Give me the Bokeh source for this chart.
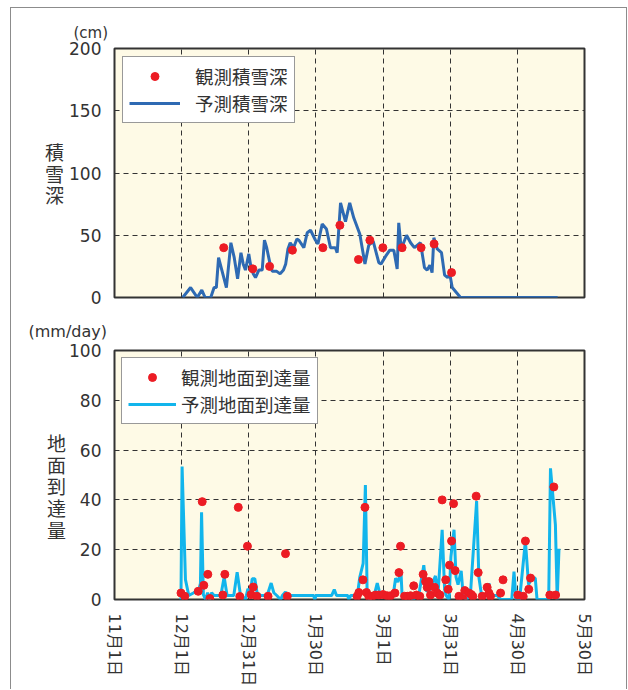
from bokeh.plotting import figure
from bokeh.layouts import column
from bokeh.models import FixedTicker, Legend
from bokeh.embed import file_html
from bokeh.resources import INLINE

# ---- data: x is days counted from 1 Nov ----
# snow depth (cm)
snow_pred_day = [30.5, 34, 37, 39, 40.5, 43, 44.5, 45.5, 46.5, 50, 52, 53.5, 55, 56.5, 57.5,
                 58.5, 60, 61, 62, 63, 64.5, 66, 67, 68, 69.5, 70.5, 72.5, 74, 75.5, 76.5,
                 77.5, 78.5, 80, 81.5, 82.4, 84.6, 86.1, 87.6, 89.8, 90.9, 92.8, 94.7, 96.5,
                 98.7, 99.5, 101, 103.2, 105.1, 106.9, 109.6, 111.9, 113.6, 115.6, 118.1,
                 119.1, 121.1, 123, 124.8, 126.3, 127, 128.1, 130.5, 132.3, 134, 136.7,
                 138.5, 139.7, 140.9, 141.9, 142.7, 144.2, 146.1, 147.5, 148.9, 149.8,
                 150.9, 154.6, 198]
snow_pred_cm = [0, 8, 0, 6, 0, 0, 8, 8, 32, 8, 44, 32, 15, 36, 27,
                22, 35, 24, 19, 16, 22, 22, 46, 40, 27, 21, 21, 19, 22, 27,
                39, 44, 40, 47, 46, 40, 52, 54, 46, 43, 59, 55, 40,
                40, 36, 76, 61, 76, 64, 51, 27, 42, 45, 28,
                27, 33, 38, 38, 23, 60, 39, 50, 44, 40, 44,
                24, 22, 26, 20, 48, 39, 36, 18, 16, 19,
                8, 0, 0]
snow_obs_day = [48.8, 61.8, 69.3, 79.5, 93.1, 100.7, 109, 114.1, 119.9, 128.5, 137, 142.8, 150.6]
snow_obs_cm = [40, 23, 25, 38, 40, 58, 30.5, 46, 40, 40, 40, 43, 20]

# water reaching the ground (mm/day)
melt_pred_day = [29.7, 30.2, 31.7, 33.2, 35.4, 37.7, 38.4, 38.9, 39.7, 40.7, 41.6, 42.5, 43.4,
                 44.5, 47.5, 49, 50.3, 53.3, 54.8, 56.3, 58.5, 59.6, 60.8, 61.5, 62.7, 63.7,
                 65.2, 68.2, 70, 71.2, 72.5, 74.2, 75, 76.4, 77.2, 89, 89.5, 90, 97, 98.2,
                 99.2, 104.2, 104.7, 105.5, 108.5, 109.6, 111.1, 112.1, 112.9, 114, 116,
                 117.4, 118.8, 124.5, 125.6, 126.6, 128, 128.5, 131, 133.7, 134.5, 136,
                 138.2, 139.4, 141, 143.4, 144.5, 146.4, 147.5, 148.2, 149.5, 150.3, 151.7,
                 152.6, 153.5, 154.9, 155.8, 157.2, 159, 161.8, 162.8, 164, 166, 167.3, 168,
                 171, 172.5, 177.5, 178.5, 179.4, 181, 183.6, 185, 186.5, 188, 188.8, 194,
                 194.8, 197, 197.8, 198.6]
melt_pred_mm = [0, 53.4, 8, 1.6, 2.7, 4, 6.5, 35, 2, 0, 2.7, 0, 2.7,
                1.6, 1.6, 9, 1.6, 1.6, 11, 1.6, 0, 4.3, 2.7, 8.3, 8.3, 2.7,
                1.6, 1.6, 6.6, 2.7, 1.6, 0, 1.6, 3, 1.6, 1.6, 0, 1.6, 1.6, 4,
                1.6, 1.6, 0, 1.6, 1.6, 9, 14.5, 46, 1.6, 0, 1.6,
                6.6, 1.6, 1.6, 8.5, 7, 11, 1.6, 1.6, 0, 1.6, 2,
                13.8, 3.3, 4, 9.5, 1.6, 28, 4, 1.6, 0, 17, 28,
                9, 6, 11.5, 1.6, 0, 1.6, 39.5, 9, 1.6, 2, 6.5, 1.6,
                1.6, 0, 0, 11.2, 0, 0, 23.5, 6, 8.6, 8.6, 0, 0,
                52.7, 30, 0, 20.4]
melt_obs_day = [29.7, 31.4, 37.4, 39.2, 39.9, 41.7, 42.6, 48.4, 49.3, 55.3, 56, 59.4, 61, 62,
                63.6, 68.6, 76.4, 77.2, 108.4, 109.2, 111, 111.9, 112.6, 113.6, 115.1, 116.6,
                118.1, 120, 121.8, 123.3, 125.3, 127.1, 127.8, 129.6, 130.8, 132.3, 133.7,
                134.9, 136.4, 137.9, 139, 139.7, 140.5, 141.2, 143, 144.2, 145.4, 146.4, 148,
                149.1, 149.7, 150.6, 151.5, 152.2, 153.9, 155.6, 156.5, 158.3, 159.4, 160.1,
                161.6, 162.5, 164.3, 166.5, 167.3, 168, 172.5, 173.6, 180.2, 182.6, 183.6,
                185.1, 185.9, 194.5, 196.3, 197.1]
melt_obs_mm = [2.6, 1.3, 3.3, 39.3, 5.7, 10.1, 0.4, 1.8, 10.1, 37, 1.2, 21.4, 2, 5,
               1.3, 1.3, 18.4, 1.3, 1.3, 2.8, 7.9, 37, 2.8, 1.3, 1.3, 1.8,
               1.8, 2, 1.5, 1.5, 2.6, 10.8, 21.4, 1.3, 1.3, 1.5, 5.5,
               1.8, 1.3, 10.1, 7.2, 4.9, 7.2, 1.8, 4.9, 2.6, 1.8, 40, 7.9,
               4.1, 13.8, 23.5, 38.5, 11.6, 1.3, 0.3, 3.6, 2.6, 2, 1.3,
               41.5, 10.8, 1.3, 4.9, 2.6, 1.3, 2.6, 7.9, 1.8, 1.3, 23.5,
               4.1, 8.6, 1.8, 45.2, 1.8]

date_ticks = [0, 30, 60, 90, 120, 150, 180, 210]
date_labels = ["11月1日", "12月1日", "12月31日", "1月30日", "3月1日", "3月31日", "4月30日", "5月30日"]
snow_ticks = [0, 50, 100, 150, 200]
melt_ticks = [0, 20, 40, 60, 80, 100]

NUM_FONT = "DejaVu Sans, 'Noto Sans CJK JP'"
JP_FONT = "'Noto Sans CJK JP'"
TXT = "#333333"
BG = "#FEFAE6"
RED = "#EC1C24"


def style(p, yticks, ylabel, label_standoff):
    p.background_fill_color = BG
    p.border_fill_color = "white"
    p.outline_line_color = "#333333"
    p.outline_line_width = 2
    p.xgrid.ticker = FixedTicker(ticks=date_ticks[1:-1])
    p.ygrid.ticker = FixedTicker(ticks=yticks[1:-1])
    for g in (p.xgrid, p.ygrid):
        g.grid_line_color = "#333333"
        g.grid_line_dash = "5 4"
        g.grid_line_width = 1
    ax = p.yaxis[0]
    ax.ticker = FixedTicker(ticks=yticks)
    ax.axis_line_color = None
    ax.major_tick_line_color = None
    ax.minor_tick_line_color = None
    ax.major_label_standoff = 7
    ax.major_label_text_font = NUM_FONT
    ax.major_label_text_font_size = "17px"
    ax.major_label_text_color = TXT
    ax.axis_label = ylabel
    ax.axis_label_orientation = "horizontal"
    ax.axis_label_standoff = label_standoff
    ax.axis_label_text_font = JP_FONT
    ax.axis_label_text_font_size = "19px"
    ax.axis_label_text_line_height = 0.8
    ax.axis_label_text_font_style = "normal"
    ax.axis_label_text_color = TXT
    p.title.align = "left"
    p.title.text_font = NUM_FONT
    p.title.text_font_style = "normal"
    p.title.text_color = TXT


def legend(p, items, margin, glyph_w, standoff):
    lg = Legend(items=items, location="top_left", margin=margin, padding=6,
                spacing=1, glyph_width=glyph_w, glyph_height=20, label_height=20,
                label_standoff=standoff, label_text_font=JP_FONT,
                label_text_font_size="18.5px", label_text_color=TXT,
                border_line_color="#333333", border_line_width=1.5,
                background_fill_color="white", background_fill_alpha=1.0)
    p.add_layout(lg)


# ---- snow depth panel ----
p1 = figure(width=615, height=300, x_range=(0, 210), y_range=(0, 200),
            output_backend="svg", toolbar_location=None,
            min_border_left=103, min_border_right=42, min_border_top=40, min_border_bottom=11)
style(p1, snow_ticks, "積\n雪\n深", 2)
p1.xaxis.visible = False
p1.title.text = "(cm)"
p1.title.offset = -41
p1.title.standoff = 13
p1.title.text_font_size = "15px"
r_sl = p1.line(snow_pred_day, snow_pred_cm, line_color="#2E6AB3", line_width=3)
r_sp = p1.scatter(snow_obs_day, snow_obs_cm, size=8, fill_color=RED, line_color=RED)
legend(p1, [("観測積雪深", [r_sp]), ("予測積雪深", [r_sl])], 8, 51, 15)

# ---- ground-reaching water panel ----
p2 = figure(width=615, height=381, x_range=(0, 210), y_range=(0, 100),
            output_backend="svg", toolbar_location=None,
            min_border_left=103, min_border_right=42, min_border_top=42, min_border_bottom=86)
style(p2, melt_ticks, " \n地\n面\n到\n達\n量", 0)
p2.title.text = "(mm/day)"
p2.title.offset = -86
p2.title.standoff = 19
p2.title.text_font_size = "16px"
xa = p2.xaxis[0]
xa.ticker = FixedTicker(ticks=date_ticks)
xa.major_label_overrides = dict(zip(date_ticks, date_labels))
xa.major_label_orientation = "vertical"
xa.major_label_standoff = 8
xa.major_label_text_font = NUM_FONT
xa.major_label_text_font_size = "16px"
xa.major_label_text_color = TXT
xa.axis_line_color = None
xa.major_tick_line_color = None
xa.minor_tick_line_color = None
r_ml = p2.line(melt_pred_day, melt_pred_mm, line_color="#12B5EC", line_width=3)
r_mp = p2.scatter(melt_obs_day, melt_obs_mm, size=8, fill_color=RED, line_color=RED)
legend(p2, [("観測地面到達量", [r_mp]), ("予測地面到達量", [r_ml])], 7, 48, 5)

page = column(p1, p2, margin=(7, 0, 0, 10),
              styles={"border-top": "1px solid #8c8c8c",
                      "border-left": "1px solid #8c8c8c",
                      "border-right": "1px solid #8c8c8c"})

open("out.html", "w").write(file_html(page, INLINE))
